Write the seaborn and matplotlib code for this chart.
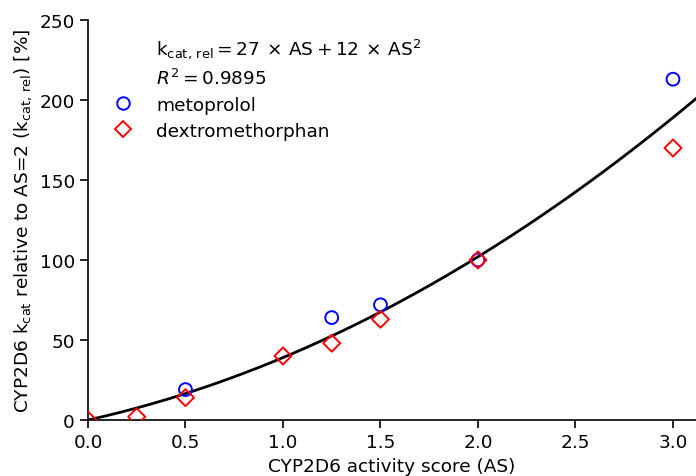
import numpy as np
import pandas as pd
import matplotlib
matplotlib.use("Agg")
import matplotlib.pyplot as plt
import seaborn as sns
from matplotlib.lines import Line2D

sns.set_style("ticks")
plt.rcParams['font.family'] = ['DejaVu Sans']
plt.rcParams['mathtext.fontset'] = 'dejavusans'
for k in ['text.color', 'axes.labelcolor', 'xtick.color', 'ytick.color', 'axes.edgecolor']:
    plt.rcParams[k] = 'black'

# data
meto_as = [0.5, 1.25, 1.5, 2.0, 3.0]
meto_kcat = [19, 64, 72, 100, 213]
dextro_as = [0.0, 0.25, 0.5, 1.0, 1.25, 1.5, 2.0, 3.0]
dextro_kcat = [0, 2, 14, 40, 48, 63, 100, 170]
coef_lin = 27
coef_quad = 12
r2 = 0.9895

fit_x = np.linspace(0, 3.2, 200)
fit_y = coef_lin * fit_x + coef_quad * fit_x ** 2

fig = plt.figure(figsize=(6.96, 4.77), dpi=100)
ax = fig.add_axes([0.1264, 0.1174, 0.8736, 0.8386])

fs = 13.3
sns.lineplot(x=fit_x, y=fit_y, color='black', lw=2, ax=ax, zorder=2)
sns.scatterplot(x=meto_as, y=meto_kcat, marker='o', s=85, facecolors='none',
                edgecolor='blue', linewidth=1.4, ax=ax, zorder=3, clip_on=False)
sns.scatterplot(x=dextro_as, y=dextro_kcat, marker='D', s=75, facecolors='none',
                edgecolor='red', linewidth=1.4, ax=ax, zorder=3, clip_on=True)

ax.set_xlim(0, 3.118)
ax.set_ylim(0, 250)
ax.set_xticks([0, 0.5, 1.0, 1.5, 2.0, 2.5, 3.0])
ax.set_xticklabels(['0.0', '0.5', '1.0', '1.5', '2.0', '2.5', '3.0'])
ax.set_yticks([0, 50, 100, 150, 200, 250])
ax.tick_params(labelsize=fs, width=1.2, length=6, color='black', labelcolor='black')
for s in ['top', 'right']:
    ax.spines[s].set_visible(False)
for s in ['left', 'bottom']:
    ax.spines[s].set_linewidth(1.2)
    ax.spines[s].set_color('black')

ax.set_xlabel('CYP2D6 activity score (AS)', fontsize=fs, color='black')
ax.set_ylabel(r'CYP2D6 $\mathrm{k_{cat}}$ relative to AS=2 ($\mathrm{k_{cat,\,rel}}$) [%]',
              fontsize=fs, color='black')

handles = [
    Line2D([], [], linestyle='none', marker=None),
    Line2D([], [], linestyle='none', marker=None),
    Line2D([], [], linestyle='none', marker='o', markersize=9, markerfacecolor='none',
           markeredgecolor='blue', markeredgewidth=1.4),
    Line2D([], [], linestyle='none', marker='D', markersize=8, markerfacecolor='none',
           markeredgecolor='red', markeredgewidth=1.4),
]
labels = [
    r'$\mathrm{k_{cat,\,rel} = 27\,\times\,AS + 12\,\times\,AS^2}$',
    r'$R^2 = 0.9895$',
    'metoprolol',
    'dextromethorphan',
]
leg = ax.legend(handles, labels, loc='upper left', frameon=False, fontsize=fs,
                bbox_to_anchor=(0.0, 1.0), handletextpad=0.8, labelspacing=0.42)
for t in leg.get_texts():
    t.set_color('black')

fig.savefig('out.png', dpi=100)
